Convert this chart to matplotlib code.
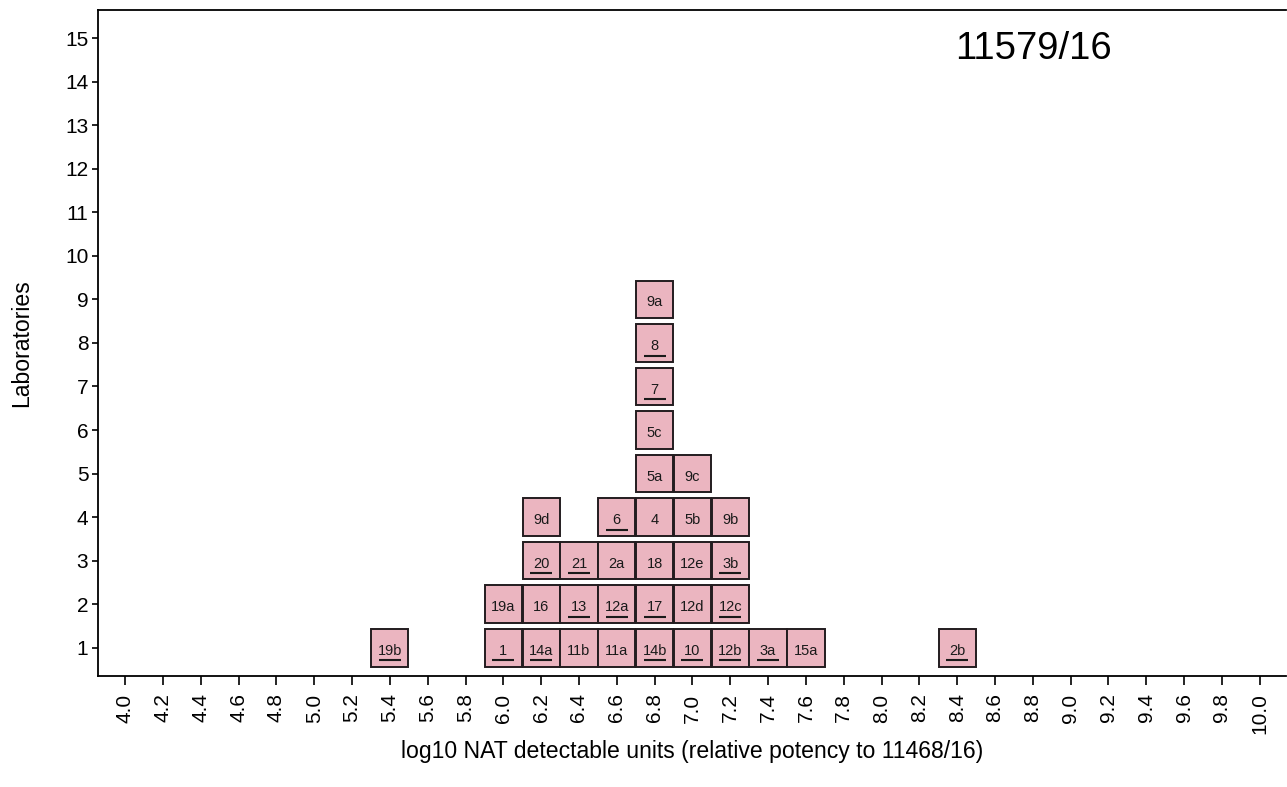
import numpy as np
import matplotlib.pyplot as plt
from matplotlib.patches import Rectangle

plt.rcParams['font.family'] = ['Liberation Sans', 'DejaVu Sans']

# each lab result: label, log10 potency (box column), stack level, underlined?
labels = ['19b', '1', '14a', '11b', '11a', '14b', '10', '12b', '3a', '15a', '2b',
          '19a', '16', '13', '12a', '17', '12d', '12c',
          '20', '21', '2a', '18', '12e', '3b',
          '9d', '6', '4', '5b', '9b',
          '5a', '9c',
          '5c', '7', '8', '9a']
potency = [5.4, 6.0, 6.2, 6.4, 6.6, 6.8, 7.0, 7.2, 7.4, 7.6, 8.4,
           6.0, 6.2, 6.4, 6.6, 6.8, 7.0, 7.2,
           6.2, 6.4, 6.6, 6.8, 7.0, 7.2,
           6.2, 6.6, 6.8, 7.0, 7.2,
           6.8, 7.0,
           6.8, 6.8, 6.8, 6.8]
level = [1, 1, 1, 1, 1, 1, 1, 1, 1, 1, 1,
         2, 2, 2, 2, 2, 2, 2,
         3, 3, 3, 3, 3, 3,
         4, 4, 4, 4, 4,
         5, 5,
         6, 7, 8, 9]
underlined = [1, 1, 1, 0, 0, 1, 1, 1, 1, 0, 1,
              0, 0, 1, 1, 1, 0, 1,
              1, 1, 0, 0, 0, 1,
              0, 1, 0, 0, 0,
              0, 0,
              0, 1, 1, 0]

x_ticks = np.round(np.arange(4.0, 10.01, 0.2), 1)
y_ticks = np.arange(1, 16)
title_text = '11579/16'

fig = plt.figure(figsize=(12.87, 7.87), dpi=100)
ax = fig.add_axes([0.0762, 0.141, 0.9232, 0.846])

bw, bh = 0.197, 0.865
for lab, xv, yv, u in zip(labels, potency, level, underlined):
    ax.add_patch(Rectangle((xv - bw / 2, yv - bh / 2), bw, bh,
                           facecolor='#ebb5c0', edgecolor='#231c1f', linewidth=1.4))
    ax.text(xv, yv - 0.07, lab, ha='center', va='center', fontsize=10.5, color='#1a1a1a')
    if u:
        ax.plot([xv - 0.058, xv + 0.058], [yv - 0.29, yv - 0.29],
                color='#1a1a1a', linewidth=1.5, solid_capstyle='butt')

ax.set_xlim(3.857, 10.14)
ax.set_ylim(0.35, 15.64)
ax.set_xticks(x_ticks)
ax.set_xticklabels(['%.1f' % v for v in x_ticks], rotation=90)
ax.set_yticks(y_ticks)
ax.tick_params(axis='x', direction='out', length=6.5, width=1.2, labelsize=15, pad=6)
ax.tick_params(axis='y', direction='out', length=4, width=1.2, labelsize=15, pad=3)
for s in ['left', 'bottom', 'top']:
    ax.spines[s].set_linewidth(1.3)
ax.spines['right'].set_visible(False)

ax.set_xlabel('log10 NAT detectable units (relative potency to 11468/16)', fontsize=16.6, labelpad=4)
ax.set_ylabel('Laboratories', fontsize=16.6, labelpad=23)
ax.text(8.39, 14.75, title_text, fontsize=27.5, ha='left', va='center')

fig.savefig('out.png', dpi=100)
